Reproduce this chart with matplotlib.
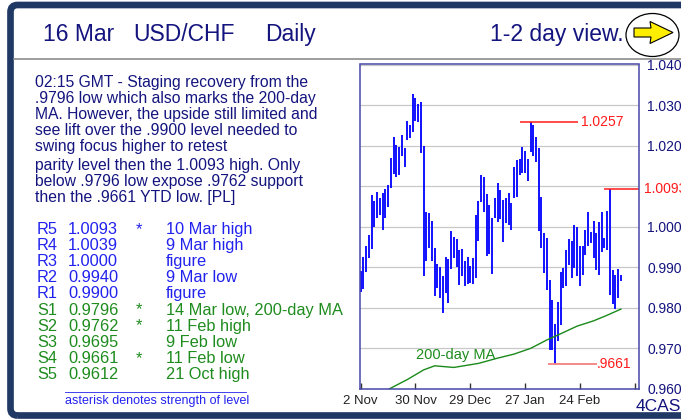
import matplotlib.pyplot as plt
from matplotlib.patches import FancyBboxPatch, Ellipse, Polygon
from matplotlib.lines import Line2D

# daily high / low, 2 Nov .. 16 Mar (trading-day index)
highs = [
    0.9891, 0.9925, 0.9952, 0.9978, 1.0077, 1.0063, 1.0086, 1.0070, 1.0082, 1.0093,
    1.0103, 1.0170, 1.0221, 1.0201, 1.0197, 1.0226, 1.0193, 1.0261, 1.0251, 1.0328,
    1.0318, 1.0302, 1.0307, 1.0198, 1.0035, 1.0034, 1.0014, 0.9947, 0.9907, 0.9901,
    0.9877, 0.9924, 0.9920, 0.9990, 0.9975, 0.9970, 0.9943, 0.9945, 0.9916, 0.9924,
    0.9902, 0.9922, 1.0029, 1.0063, 1.0126, 1.0121, 1.0080, 1.0053, 1.0021, 1.0070,
    1.0107, 1.0090, 1.0066, 1.0071, 1.0082, 1.0057, 1.0146, 1.0164, 1.0167, 1.0197,
    1.0187, 1.0167, 1.0257, 1.0251, 1.0222, 1.0195, 1.0072, 0.9984, 0.9971, 0.9869,
    0.9819, 0.9760, 0.9813, 0.9888, 0.9897, 0.9943, 0.9970, 0.9963, 1.0003, 1.0000,
    0.9951, 0.9953, 0.9992, 1.0037, 0.9987, 1.0014, 0.9983, 1.0010, 1.0035, 0.9971,
    1.0038, 1.0093, 0.9893, 0.9881, 0.9896, 0.9881,
]
lows = [
    0.9838, 0.9846, 0.9887, 0.9922, 0.9945, 1.0000, 1.0022, 1.0029, 0.9991, 1.0021,
    1.0047, 1.0095, 1.0129, 1.0123, 1.0127, 1.0175, 1.0146, 1.0214, 1.0219, 1.0234,
    1.0261, 1.0257, 1.0181, 0.9877, 0.9914, 0.9948, 0.9916, 0.9828, 0.9848, 0.9823,
    0.9786, 0.9836, 0.9811, 0.9895, 0.9921, 0.9899, 0.9856, 0.9879, 0.9854, 0.9858,
    0.9860, 0.9859, 0.9874, 0.9963, 1.0060, 1.0037, 0.9926, 0.9932, 0.9883, 1.0021,
    1.0012, 1.0019, 0.9961, 1.0008, 1.0004, 0.9992, 1.0070, 1.0074, 1.0126, 1.0132,
    1.0132, 1.0113, 1.0185, 1.0173, 1.0159, 0.9990, 0.9946, 0.9885, 0.9844, 0.9696,
    0.9696, 0.9661, 0.9717, 0.9758, 0.9848, 0.9852, 0.9906, 0.9874, 0.9898, 0.9878,
    0.9852, 0.9881, 0.9930, 0.9951, 0.9959, 0.9922, 0.9893, 0.9881, 0.9938, 0.9947,
    0.9942, 0.9830, 0.9809, 0.9796, 0.9823, 0.9865,
]

# 200-day moving average, read at a few days
ma_idx = [9, 17, 23, 27, 34, 43, 50, 56, 62, 68, 72, 79, 85, 90, 95]
ma_val = [0.9594, 0.9622, 0.9646, 0.9656, 0.9652, 0.9662, 0.9675, 0.9685,
          0.9699, 0.9720, 0.9732, 0.9754, 0.9767, 0.9781, 0.9796]

date_pos = [0, 20, 40, 60, 80, 100]
date_labels = ["2 Nov", "30 Nov", "29 Dec", "27 Jan", "24 Feb", ""]
price_ticks = [0.960, 0.970, 0.980, 0.990, 1.000, 1.010, 1.020, 1.030, 1.040]
price_labels = ["0.960", "0.970", "0.980", "0.990", "1.000", "", "1.020", "1.030", "1.040"]

high_level = 1.0257
r5_level = 1.0093
low_level = 0.9661

comment = [
    "02:15 GMT - Staging recovery from the",
    ".9796 low which also marks the 200-day",
    "MA. However, the upside still limited and",
    "see lift over the .9900 level needed to",
    "swing focus higher to retest",
    "parity level then the 1.0093 high. Only",
    "below .9796 low expose .9762 support",
    "then the .9661 YTD low. [PL]",
]
level_names = ["R5", "R4", "R3", "R2", "R1", "S1", "S2", "S3", "S4", "S5"]
level_values = ["1.0093", "1.0039", "1.0000", "0.9940", "0.9900",
                "0.9796", "0.9762", "0.9695", "0.9661", "0.9612"]
level_stars = ["*", "", "", "", "", "*", "*", "", "*", ""]
level_notes = ["10 Mar high", "9 Mar high", "figure", "9 Mar low", "figure",
               "14 Mar low, 200-day MA", "11 Feb high", "9 Feb low", "11 Feb low",
               "21 Oct high"]

plt.rcParams["font.family"] = ["Liberation Sans", "DejaVu Sans"]

W, H = 681, 419
fig = plt.figure(figsize=(W / 100, H / 100), dpi=100)
fig.patch.set_facecolor("white")
tr = fig.dpi_scale_trans


def px(x, y):
    return x / 100, (H - y) / 100


navy = "#1f3864"
text_navy = "#14147e"
blue = "#2222ee"
green = "#1e8c1e"
red = "#ff1a1a"

# frame
frame = FancyBboxPatch(px(10.5, 415.5), 7.0, (415.5 - 5) / 100,
                       boxstyle="round,pad=0,rounding_size=0.07",
                       transform=tr, fill=False, edgecolor=navy, lw=4.8)
fig.add_artist(frame)
fig.add_artist(Line2D([0.14, 6.81], [px(0, 59)[1]] * 2, transform=tr,
                      color="#8c8c8c", lw=1.2))

# header
for txt, x in [("16 Mar", 43), ("USD/CHF", 133), ("Daily", 265)]:
    fig.text(*px(x, 40.5), txt, transform=tr, fontsize=16.5, color=text_navy,
             va="baseline", ha="left")
fig.text(*px(490, 40.5), "1-2 day view.", transform=tr, fontsize=16.5,
         color=text_navy, va="baseline", ha="left")
fig.add_artist(Ellipse(px(652.5, 35), 0.53, 0.43, transform=tr,
                       facecolor="white", edgecolor="black", lw=0.9))
arrow = [(634, 28), (651, 28), (650, 21.5), (673, 32.5), (650, 43.5),
         (651, 37), (634, 37)]
fig.add_artist(Polygon([px(x, y) for x, y in arrow], closed=True, transform=tr,
                       facecolor="#ffee00", edgecolor="black", lw=0.8))

# commentary
ys = [86.5, 102.5, 118.5, 134.5, 150.5, 170, 186, 202]
for line, y in zip(comment, ys):
    fig.text(*px(35, y), line, transform=tr, fontsize=11.3, color=text_navy,
             va="baseline")

# levels table
for i in range(len(level_names)):
    y = 234 + 16.1 * i
    c = blue if level_names[i].startswith("R") else green
    fig.text(*px(37, y), level_names[i], transform=tr, fontsize=11.8, color=c, va="baseline")
    fig.text(*px(68, y), level_values[i], transform=tr, fontsize=11.8, color=c, va="baseline")
    fig.text(*px(136, y), level_stars[i], transform=tr, fontsize=11.8, color=c, va="baseline")
    fig.text(*px(166, y), level_notes[i], transform=tr, fontsize=11.8, color=c, va="baseline")

fig.add_artist(Line2D([0.65, 2.46], [px(0, 391.5)[1]] * 2, transform=tr,
                      color=blue, lw=0.6))
fig.text(*px(65, 403.5), "asterisk denotes strength of level", transform=tr,
         fontsize=9, color=blue, va="baseline")

# price chart
ax = fig.add_axes([360 / W, (H - 388.5) / H, 279 / W, 324 / H])
ax.vlines(range(len(highs)), lows, highs, color="#1010ff", lw=1.4)
ax.plot(ma_idx, ma_val, color="#1a8a1a", lw=1.0)
ax.set_xlim(-0.25, 101.6)
ax.set_ylim(0.960, 1.040)

ax.yaxis.tick_right()
ax.set_yticks(price_ticks)
ax.set_yticklabels(price_labels)
ax.tick_params(axis="y", length=0, pad=6, labelsize=10, labelcolor=text_navy)
ax.set_xticks(date_pos)
ax.set_xticklabels(date_labels)
ax.tick_params(axis="x", direction="in", length=4, width=1, color="#333333",
               pad=5, labelsize=9.5, labelcolor="#222222")
ax.grid(axis="y", color="#c8c8c8", lw=0.9)
ax.set_axisbelow(True)
for s in ax.spines.values():
    s.set_color("#4848a8")
    s.set_linewidth(1.1)

ax.hlines(high_level, 58.1, 79.4, color=red, lw=1.1)
ax.text(80.6, high_level, "1.0257", color=red, fontsize=10, va="center")
ax.hlines(r5_level, 88.9, 101.6, color=red, lw=1.1)
ax.text(103.4, r5_level, "1.0093", color=red, fontsize=10, va="center", clip_on=False)
ax.hlines(low_level, 68.5, 86.1, color="#f48080", lw=1.3)
ax.text(86.1, low_level, ".9661", color=red, fontsize=10, va="center")
ax.text(20.2, 0.9683, "200-day MA", color=green, fontsize=10.5, va="center")

fig.text(*px(636, 411), "4CAST", transform=tr, fontsize=12.5, color=text_navy,
         va="baseline")

fig.savefig("out.png", dpi=100)
